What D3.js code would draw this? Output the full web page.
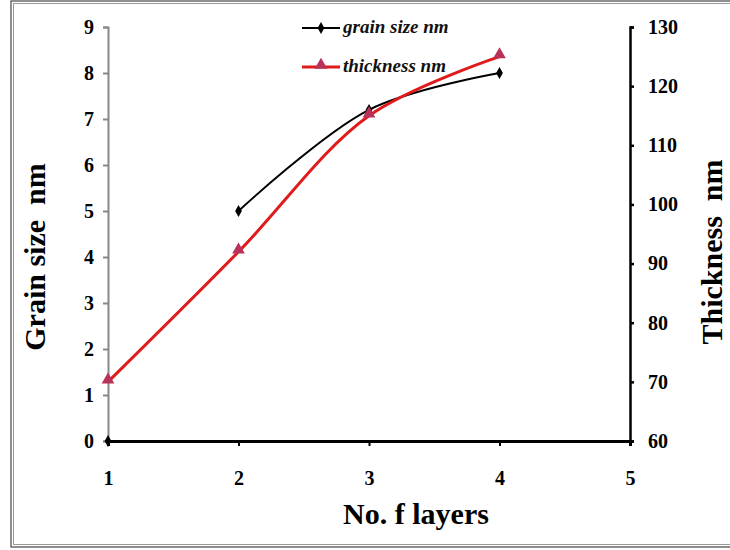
<!DOCTYPE html>
<html>
<head>
<meta charset="utf-8">
<script src="https://cdnjs.cloudflare.com/ajax/libs/d3/7.8.5/d3.min.js"></script>
<style>
  body { margin: 0; background: #fff; }
</style>
</head>
<body>
<div id="chart"></div>
<script>
const layers = [1, 2, 3, 4]
const grainSize = [0, 5, 7.2, 8]
const thickness = [70, 92, 115, 125]
const xTicks = [1, 2, 3, 4, 5]
const leftTicks = [0, 1, 2, 3, 4, 5, 6, 7, 8, 9]
const rightTicks = [60, 70, 80, 90, 100, 110, 120, 130]

const width = 730, height = 550
const serif = '"Liberation Serif", "Times New Roman", serif'

const svg = d3.select('#chart')
  .append('svg')
    .attr('width', width)
    .attr('height', height)

// outer frame (double line)
svg.append('rect')
  .attr('x', 11).attr('y', 1).attr('width', 740).attr('height', 546)
  .attr('fill', 'none').attr('stroke', '#444').attr('stroke-width', 1.2)
svg.append('rect')
  .attr('x', 13.5).attr('y', 3.5).attr('width', 740).attr('height', 541)
  .attr('fill', 'none').attr('stroke', '#999').attr('stroke-width', 1)

const x = d3.scaleLinear().domain([1, 5]).range([108, 630])
const yL = d3.scaleLinear().domain([0, 9]).range([441, 27])
const yR = d3.scaleLinear().domain([60, 130]).range([441, 27])

function styleTicks (g) {
  g.selectAll('.tick text')
    .style('font-family', serif)
    .style('font-weight', 'bold')
    .style('font-size', '20px')
    .attr('fill', '#000')
}

// left axis (gray)
const gL = svg.append('g')
  .attr('transform', `translate(${x(1)},0)`)
  .call(d3.axisLeft(yL).tickValues(leftTicks).tickSize(5).tickPadding(9).tickFormat(d3.format('d')))
gL.select('.domain').attr('stroke', '#888').attr('stroke-width', 2)
gL.selectAll('.tick line').attr('stroke', '#888').attr('stroke-width', 2)
styleTicks(gL)

// right axis (black)
const gR = svg.append('g')
  .attr('transform', `translate(${x(5)},0)`)
  .call(d3.axisRight(yR).tickValues(rightTicks).tickSize(4).tickPadding(14).tickFormat(d3.format('d')))
gR.select('.domain').attr('stroke', '#000').attr('stroke-width', 2.5)
gR.selectAll('.tick line').attr('stroke', '#000').attr('stroke-width', 2.5)
styleTicks(gR)

// bottom axis
const gB = svg.append('g')
  .attr('transform', `translate(0,${yL(0)})`)
  .call(d3.axisBottom(x).tickValues(xTicks).tickSize(5).tickPadding(25).tickFormat(d3.format('d')))
gB.select('.domain').attr('stroke', '#000').attr('stroke-width', 3)
gB.selectAll('.tick line').attr('stroke', '#000').attr('stroke-width', 2)
styleTicks(gB)

// axis titles
function title (sel) {
  return sel
    .attr('text-anchor', 'middle')
    .attr('xml:space', 'preserve')
    .style('font-family', serif)
    .style('font-weight', 'bold')
    .style('font-size', '30px')
    .attr('fill', '#000')
}

title(svg.append('text'))
  .attr('transform', 'translate(45,257) rotate(-90)')
  .text('Grain size  nm')

title(svg.append('text'))
  .attr('transform', 'translate(722,252) rotate(-90)')
  .text('Thickness  nm')

title(svg.append('text'))
  .attr('x', 416).attr('y', 524)
  .text('No. f layers')

// series
const grainPts = layers.map((l, i) => [x(l), yL(grainSize[i])])
const thickPts = layers.map((l, i) => [x(l), yR(thickness[i])])
const line = d3.line().curve(d3.curveCatmullRom.alpha(0.5))

svg.append('path')
  .attr('d', line(grainPts.slice(1)))
  .attr('fill', 'none').attr('stroke', '#000').attr('stroke-width', 2)

svg.append('path')
  .attr('d', line(thickPts))
  .attr('fill', 'none').attr('stroke', '#e01b1b').attr('stroke-width', 3)

const diamond = d3.symbol().type(d3.symbolDiamond).size(40)
const triangle = d3.symbol().type(d3.symbolTriangle).size(70)

svg.append('g').selectAll('path')
  .data(grainPts).enter()
  .append('path')
    .attr('transform', d => `translate(${d[0]},${d[1]})`)
    .attr('d', diamond)
    .attr('fill', '#000')

svg.append('g').selectAll('path')
  .data(thickPts).enter()
  .append('path')
    .attr('transform', d => `translate(${d[0]},${d[1] - 2})`)
    .attr('d', triangle)
    .attr('fill', '#b8325a')

// legend
const legend = svg.append('g')
const items = [
  { label: 'grain size nm', color: '#000', sym: diamond, fill: '#000', y: 28, w: 2, dy: 0 },
  { label: 'thickness nm', color: '#e01b1b', sym: triangle, fill: '#b8325a', y: 67, w: 3, dy: -2 }
]
items.forEach(it => {
  legend.append('line')
    .attr('x1', 302).attr('x2', 340).attr('y1', it.y).attr('y2', it.y)
    .attr('stroke', it.color).attr('stroke-width', it.w)
  legend.append('path')
    .attr('transform', `translate(321,${it.y + it.dy})`)
    .attr('d', it.sym)
    .attr('fill', it.fill)
  legend.append('text')
    .attr('x', 343).attr('y', it.y + 5)
    .style('font-family', serif)
    .style('font-weight', 'bold')
    .style('font-style', 'italic')
    .style('font-size', '19px')
    .attr('fill', '#111')
    .text(it.label)
})
</script>
</body>
</html>
